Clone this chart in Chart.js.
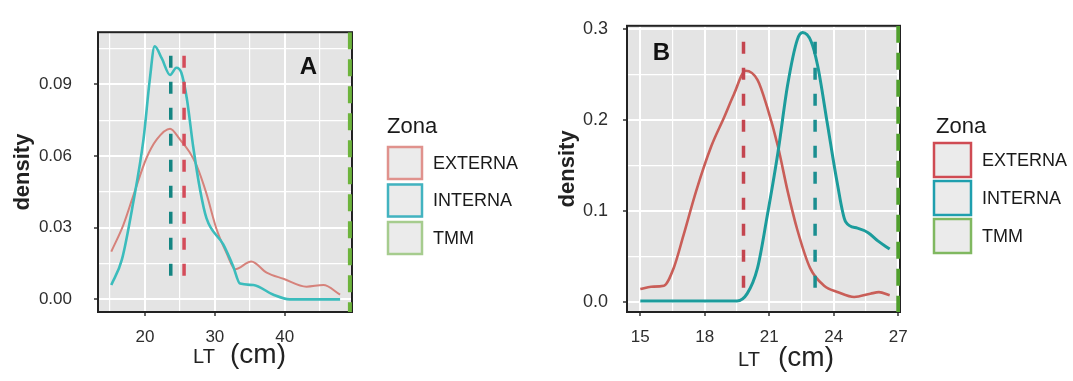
<!DOCTYPE html>
<html>
<head>
<meta charset="utf-8">
<script src="https://cdn.jsdelivr.net/npm/chart.js@4.4.1/dist/chart.umd.min.js"></script>
<style>
  html, body { margin: 0; padding: 0; background: #fff; }
  #wrap { position: relative; width: 1073px; height: 381px; overflow: hidden; }
  #panelA { position: absolute; left: 0; top: 0; }
  #panelB { position: absolute; left: 540px; top: 0; }
</style>
</head>
<body>
<div id="wrap">
  <canvas id="panelA" width="540" height="381"></canvas>
  <canvas id="panelB" width="533" height="381"></canvas>
</div>
<script>
// Leyenda
const zonas = ['EXTERNA', 'INTERNA', 'TMM'];

// Panel A : densidad de LT por zona
const ltExternaA = [15.2, 16.9, 18.3, 20.2, 21.7, 23.6, 25.0, 26.4, 27.4, 28.8, 30.2, 31.7, 32.9, 35.2, 37.4, 39.8, 43.1, 45.5, 47.9];
const densExternaA = [0.020, 0.031, 0.043, 0.059, 0.067, 0.0715, 0.067, 0.0616, 0.056, 0.0443, 0.0298, 0.0192, 0.0126, 0.0159, 0.0112, 0.0086, 0.0053, 0.006, 0.002];
const ltInternaA = [15.2, 16.7, 18.3, 19.8, 20.7, 21.4, 22.4, 23.6, 24.5, 25.2, 26.0, 26.9, 27.9, 28.8, 31.2, 32.6, 33.6, 35.5, 38.3, 40.7, 47.9];
const densInternaA = [0.006, 0.0165, 0.040, 0.067, 0.092, 0.106, 0.101, 0.094, 0.097, 0.095, 0.084, 0.064, 0.0457, 0.034, 0.023, 0.014, 0.0066, 0.006, 0.002, 0.0, 0.0];
const medianasA = [25.6, 23.7];          // EXTERNA, INTERNA
const medianaAltoA = [0.0046, 0.102];    // tramo vertical de las medianas
const tmmA = 49.3;
const xMajorA = [20, 30, 40];
const xLabelsA = ['20', '30', '40'];
const xMinorA = [15, 25, 35, 45];
const yMajorA = [0, 0.03, 0.06, 0.09];
const yLabelsA = ['0.00', '0.03', '0.06', '0.09'];
const yMinorA = [0.015, 0.045, 0.075, 0.105];

// Panel B
const ltExternaB = [15.0, 15.5, 16.1, 16.55, 17.0, 17.6, 18.3, 18.9, 19.35, 19.9, 20.45, 20.9, 21.4, 21.85, 22.3, 22.9, 23.55, 24.2, 24.95, 25.7, 26.1, 26.6];
const densExternaB = [0.014, 0.0166, 0.0177, 0.037, 0.0725, 0.122, 0.171, 0.203, 0.228, 0.254, 0.244, 0.214, 0.171, 0.122, 0.0795, 0.037, 0.0177, 0.0106, 0.0053, 0.0089, 0.0106, 0.0071];
const ltInternaB = [15.0, 19.5, 19.97, 20.45, 20.9, 21.4, 21.85, 22.3, 22.55, 22.95, 23.25, 23.7, 24.15, 24.55, 25.1, 25.6, 26.05, 26.6];
const densInternaB = [0.001, 0.001, 0.009, 0.037, 0.094, 0.164, 0.238, 0.288, 0.296, 0.286, 0.2595, 0.196, 0.132, 0.088, 0.081, 0.076, 0.067, 0.058];
const medianasB = [19.8, 23.13];
const medianaAltoB = [0.014, 0.286];
const tmmB = 27.0;
const xMajorB = [15, 18, 21, 24, 27];
const xLabelsB = ['15', '18', '21', '24', '27'];
const xMinorB = [16.5, 19.5, 22.5, 25.5];
const yMajorB = [0, 0.1, 0.2, 0.3];
const yLabelsB = ['0.0', '0.1', '0.2', '0.3'];
const yMinorB = [0.05, 0.15, 0.25];

const FONT = "'Liberation Sans', Arial, sans-serif";
Chart.defaults.font.family = FONT;

const near = (arr, v) => arr.findIndex(m => Math.abs(m - v) < 1e-9);

// fondo gris, marco, letra del panel, titulo X y leyenda
const panelDeco = {
  id: 'panelDeco',
  beforeDraw(chart) {
    const { ctx, chartArea: a } = chart;
    ctx.save();
    ctx.fillStyle = '#e4e4e4';
    ctx.fillRect(a.left, a.top, a.right - a.left, a.bottom - a.top);
    ctx.restore();
  },
  beforeDatasetsDraw(chart) {
    const { ctx, chartArea: a } = chart;
    ctx.save();
    ctx.strokeStyle = '#222';
    ctx.lineWidth = 2;
    ctx.strokeRect(a.left, a.top, a.right - a.left, a.bottom - a.top);
    ctx.restore();
  },
  afterDraw(chart, args, o) {
    const { ctx, scales } = chart;
    ctx.save();
    // letra
    ctx.fillStyle = '#111';
    ctx.font = 'bold 24px ' + FONT;
    ctx.textAlign = 'center';
    ctx.textBaseline = 'middle';
    ctx.fillText(o.tag.text, scales.x.getPixelForValue(o.tag.x), scales.y.getPixelForValue(o.tag.y));
    // titulo eje X
    ctx.fillStyle = '#222';
    ctx.textAlign = 'left';
    ctx.textBaseline = 'alphabetic';
    ctx.font = '20px ' + FONT;
    ctx.fillText('LT', o.xTitle.ltX, o.xTitle.base);
    ctx.font = '28px ' + FONT;
    ctx.fillText('(cm)', o.xTitle.cmX, o.xTitle.base);
    // leyenda
    const L = o.legend;
    ctx.font = '22px ' + FONT;
    ctx.fillStyle = '#1a1a1a';
    ctx.fillText('Zona', L.titleX, L.titleY);
    ctx.font = '18px ' + FONT;
    ctx.textBaseline = 'middle';
    zonas.forEach((z, i) => {
      const y = L.top + i * L.step;
      ctx.fillStyle = '#ebebeb';
      ctx.fillRect(L.left, y, L.w, L.h);
      ctx.strokeStyle = L.colors[i];
      ctx.lineWidth = 2.5;
      ctx.strokeRect(L.left + 1, y + 1, L.w - 2, L.h - 2);
      ctx.fillStyle = '#1a1a1a';
      ctx.fillText(z, L.textLeft, y + L.h / 2 + 1);
    });
    ctx.restore();
  }
};

function buildPanel(id, p) {
  const curve = (xs, ys, color, width) => ({
    data: xs.map((x, i) => ({ x, y: ys[i] })),
    borderColor: color, borderWidth: width, pointRadius: 0,
    cubicInterpolationMode: 'monotone', fill: false
  });
  // de arriba hacia abajo, para que el primer trazo empiece arriba
  const vline = (x, y0, y1, color, width, dash) => ({
    data: [{ x, y: y1 }, { x, y: y0 }],
    borderColor: color, borderWidth: width, borderDash: dash,
    borderCapStyle: 'butt', pointRadius: 0, fill: false
  });
  const xTicks = [...p.xMajor, ...p.xMinor].sort((a, b) => a - b);
  const yTicks = [...p.yMajor, ...p.yMinor].sort((a, b) => a - b);

  return new Chart(document.getElementById(id), {
    type: 'line',
    data: {
      datasets: [
        vline(p.medianas[0], p.medAlto[0], p.medAlto[1], p.dashCol[0], 3.5, [12, 14]),
        vline(p.medianas[1], p.medAlto[0], p.medAlto[1], p.dashCol[1], 3.5, [12, 14]),
        vline(p.tmm, p.yMin, p.yMax, p.dashCol[2], 4, [17, 10]),
        curve(p.ltInt, p.densInt, p.lineCol[1], p.lineW[1]),
        curve(p.ltExt, p.densExt, p.lineCol[0], p.lineW[0])
      ]
    },
    options: {
      responsive: false,
      animation: false,
      layout: { padding: { top: p.top, right: p.right, left: 0, bottom: 0 } },
      plugins: {
        legend: { display: false },
        tooltip: { enabled: false },
        panelDeco: p.deco
      },
      scales: {
        x: {
          type: 'linear', min: p.xMin, max: p.xMax,
          afterBuildTicks: s => { s.ticks = xTicks.map(v => ({ value: v })); },
          afterFit: s => { s.height = p.xAxisH; },
          border: { display: false },
          grid: {
            color: '#ffffff',
            lineWidth: c => near(p.xMajor, c.tick.value) >= 0 ? 2 : 1.2,
            tickColor: c => near(p.xMajor, c.tick.value) >= 0 ? '#333' : 'rgba(0,0,0,0)',
            tickWidth: 1.5,
            tickLength: 4
          },
          ticks: {
            autoSkip: false, maxRotation: 0, padding: 11,
            color: '#2e2e2e', font: { size: 17 },
            callback: v => { const i = near(p.xMajor, v); return i < 0 ? '' : p.xLabels[i]; }
          }
        },
        y: {
          type: 'linear', min: p.yMin, max: p.yMax,
          afterBuildTicks: s => { s.ticks = yTicks.map(v => ({ value: v })); },
          afterFit: s => { s.width = p.yAxisW; },
          border: { display: false },
          grid: {
            color: '#ffffff',
            lineWidth: c => near(p.yMajor, c.tick.value) >= 0 ? 2 : 1.2,
            tickColor: c => near(p.yMajor, c.tick.value) >= 0 ? '#333' : 'rgba(0,0,0,0)',
            tickWidth: 1.5,
            tickLength: 4
          },
          ticks: {
            autoSkip: false, padding: p.yTickPad,
            color: '#2e2e2e', font: { size: p.yTickSize },
            callback: v => { const i = near(p.yMajor, v); return i < 0 ? '' : p.yLabels[i]; }
          },
          title: {
            display: true, text: 'density', color: '#222',
            font: { size: 22, weight: 'bold' },
            padding: { top: p.yTitlePad, bottom: 0 }
          }
        }
      }
    },
    plugins: [panelDeco]
  });
}

buildPanel('panelA', {
  ltExt: ltExternaA, densExt: densExternaA, ltInt: ltInternaA, densInt: densInternaA,
  medianas: medianasA, medAlto: medianaAltoA, tmm: tmmA,
  xMajor: xMajorA, xLabels: xLabelsA, xMinor: xMinorA,
  yMajor: yMajorA, yLabels: yLabelsA, yMinor: yMinorA,
  xMin: 13.3, xMax: 49.6, yMin: -0.0053, yMax: 0.1119,
  top: 16, right: 188, yAxisW: 98, xAxisH: 69, yTickPad: 22, yTickSize: 17, yTitlePad: 10,
  lineCol: ['#d6827b', '#3bbcbc'], lineW: [2, 2.6],
  dashCol: ['#d44c5a', '#148582', '#6db43c'],
  deco: {
    tag: { text: 'A', x: 43.36, y: 0.0973 },
    xTitle: { ltX: 193, cmX: 230, base: 363 },
    legend: {
      titleX: 387, titleY: 133, left: 387, top: 146, w: 36, h: 34, step: 37.5, textLeft: 433,
      colors: ['#e0928d', '#42b3c0', '#a6cc8e']
    }
  }
});

buildPanel('panelB', {
  ltExt: ltExternaB, densExt: densExternaB, ltInt: ltInternaB, densInt: densInternaB,
  medianas: medianasB, medAlto: medianaAltoB, tmm: tmmB,
  xMajor: xMajorB, xLabels: xLabelsB, xMinor: xMinorB,
  yMajor: yMajorB, yLabels: yLabelsB, yMinor: yMinorB,
  xMin: 14.38, xMax: 27.08, yMin: -0.0112, yMax: 0.3035,
  top: 15, right: 173, yAxisW: 87, xAxisH: 69, yTickPad: 15, yTickSize: 18, yTitlePad: 15,
  lineCol: ['#c95e58', '#1c9c9c'], lineW: [2.6, 3],
  dashCol: ['#c4454f', '#1a8e90', '#4f9e2c'],
  deco: {
    tag: { text: 'B', x: 15.98, y: 0.273 },
    xTitle: { ltX: 198, cmX: 238, base: 366 },
    legend: {
      titleX: 396, titleY: 133, left: 393, top: 142, w: 39, h: 36, step: 38, textLeft: 442,
      colors: ['#cf4b53', '#1f9fae', '#80b860']
    }
  }
});
</script>
</body>
</html>
